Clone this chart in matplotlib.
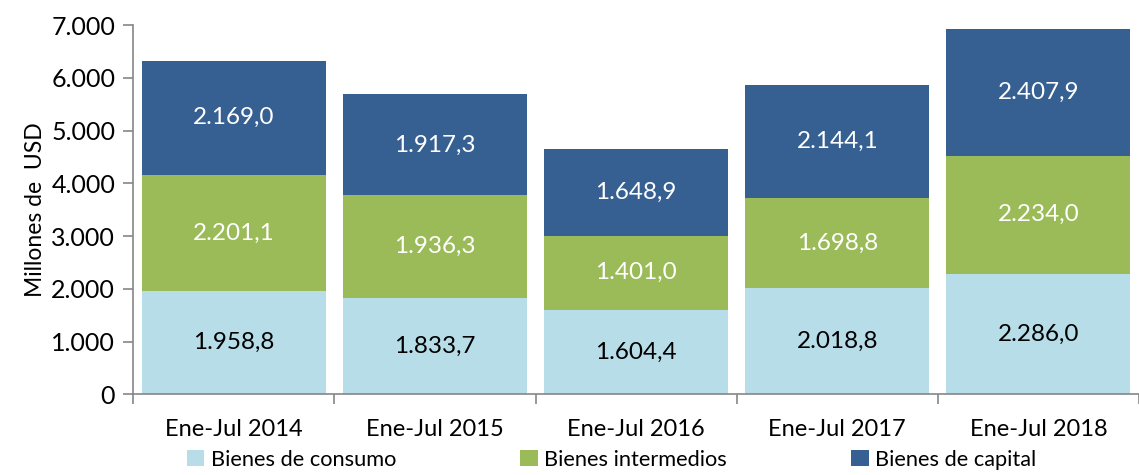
import matplotlib
matplotlib.use("Agg")
import matplotlib.pyplot as plt
import numpy as np

plt.rcParams['font.family'] = ['Lato', 'DejaVu Sans']

# Datos
periodos = ["Ene-Jul 2014", "Ene-Jul 2015", "Ene-Jul 2016", "Ene-Jul 2017", "Ene-Jul 2018"]
consumo = [1958.8, 1833.7, 1604.4, 2018.8, 2286.0]
intermedios = [2201.1, 1936.3, 1401.0, 1698.8, 2234.0]
capital = [2169.0, 1917.3, 1648.9, 2144.1, 2407.9]

series = ["Bienes de consumo", "Bienes intermedios", "Bienes de capital"]
colores = ["#B7DDE8", "#9BBB59", "#366092"]
color_texto = ["black", "white", "white"]


def fmt(v):
    s = f"{v:,.1f}"
    return s.replace(",", "X").replace(".", ",").replace("X", ".")


fig = plt.figure(figsize=(11.39, 4.75), dpi=100)
ax = fig.add_axes([0.117, 0.17, 0.883, 0.777])

x = np.arange(len(periodos))
base = np.zeros(len(periodos))
for vals, nombre, c, tc in zip([consumo, intermedios, capital], series, colores, color_texto):
    vals = np.array(vals)
    ax.bar(x, vals, width=0.915, bottom=base, color=c, label=nombre)
    for xi, b, v in zip(x, base, vals):
        ax.text(xi, b + v / 2, fmt(v), ha="center", va="center", color=tc, fontsize=17.5)
    base = base + vals

ax.set_xlim(-0.5, len(periodos) - 0.5)
ax.set_ylim(0, 7000)
ax.set_yticks(np.arange(0, 7001, 1000))
ax.set_yticklabels([fmt(v).split(",")[0] for v in np.arange(0, 7001, 1000)], fontsize=18)
ax.set_ylabel("Millones de  USD", fontsize=16.5, labelpad=4)

ax.set_xticks(x)
ax.set_xticklabels(periodos, fontsize=17)
ax.tick_params(axis="x", length=0, pad=18)
ax.set_xticks(np.arange(-0.5, len(periodos)), minor=True)
ax.tick_params(axis="x", which="minor", length=7, color="#868686", width=1.2)
ax.tick_params(axis="y", length=7, color="#868686", width=1.2, pad=6)

for s in ["top", "right"]:
    ax.spines[s].set_visible(False)
for s in ["left", "bottom"]:
    ax.spines[s].set_color("#868686")
    ax.spines[s].set_linewidth(1.2)

fig.legend(loc="lower center", bbox_to_anchor=(0.537, -0.03), ncol=3, frameon=False,
           fontsize=15.7, handlelength=0.8, handleheight=0.8, handletextpad=0.3,
           columnspacing=5.7)

fig.savefig("out.png", dpi=100)
